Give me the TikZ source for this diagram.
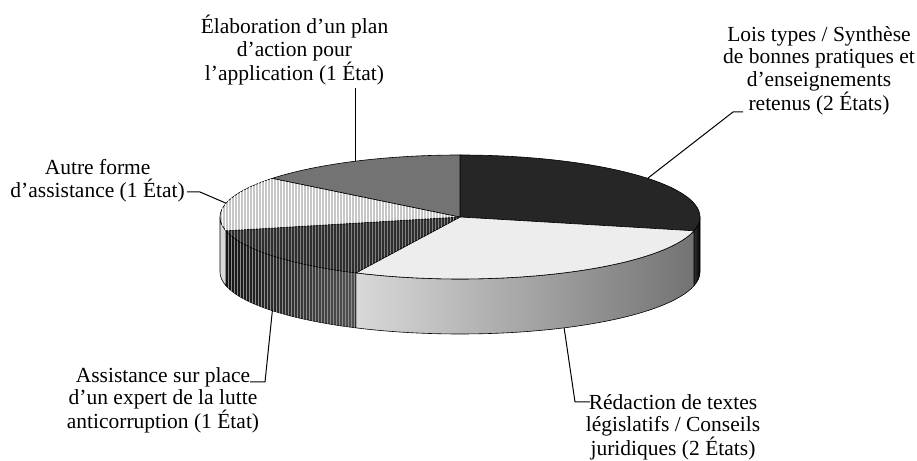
\documentclass[tikz,border=0pt]{standalone}
\usepackage{fontspec}
\setmainfont{Liberation Serif}
\usetikzlibrary{calc,patterns}

\begin{document}
\begin{tikzpicture}[x=1pt,y=1pt,
  slice/.style={draw=black,line width=0.6pt,line join=round},
  ell/.style={x radius=240,y radius=62},
  leader/.style={black,line width=1pt},
  lbl/.style={align=center,inner sep=0pt,font=\fontsize{21.5}{22.5}\selectfont}]

\useasboundingbox (0,0) rectangle (917,460);

\coordinate (ctr) at (460,243);

% front side of the pie
\draw[slice,left color=black!80,right color=black] ($(ctr)+(0:240 and 62)$) arc[ell,start angle=0,end angle=-12.857] -- ++(0,-55) arc[ell,start angle=-12.857,end angle=0] -- cycle;
\draw[slice,left color=black!15,right color=black!55] ($(ctr)+(-12.857:240 and 62)$) arc[ell,start angle=-12.857,end angle=-115.714] -- ++(0,-55) arc[ell,start angle=-115.714,end angle=-12.857] -- cycle;
\draw[slice,left color=black!92,right color=black!68,postaction={pattern=vertical lines,pattern color=black!45}] ($(ctr)+(-115.714:240 and 62)$) arc[ell,start angle=-115.714,end angle=-167.143] -- ++(0,-55) arc[ell,start angle=-167.143,end angle=-115.714] -- cycle;
\draw[slice,fill=black!15] ($(ctr)+(-167.143:240 and 62)$) arc[ell,start angle=-167.143,end angle=-180] -- ++(0,-55) arc[ell,start angle=-180,end angle=-167.143] -- cycle;

% top of the pie
\draw[slice,fill=black!85] (ctr) -- +(90:240 and 62) arc[ell,start angle=90,end angle=-12.857] -- cycle;
\draw[slice,fill=black!7] (ctr) -- +(-12.857:240 and 62) arc[ell,start angle=-12.857,end angle=-115.714] -- cycle;
\draw[slice,fill=black!82,postaction={pattern=vertical lines,pattern color=black!50}] (ctr) -- +(-115.714:240 and 62) arc[ell,start angle=-115.714,end angle=-167.143] -- cycle;
\draw[slice,fill=black!22,postaction={pattern=vertical lines,pattern color=white}] (ctr) -- +(-167.143:240 and 62) arc[ell,start angle=-167.143,end angle=-218.571] -- cycle;
\draw[slice,fill=black!55] (ctr) -- +(141.429:240 and 62) arc[ell,start angle=141.429,end angle=90] -- cycle;

% labels
\node[lbl,anchor=south] (elab) at (294.5,375) {Élaboration d'un plan\\d'action pour\\l'application (1 État)};
\node[lbl,anchor=south] (lois) at (819,345) {Lois types / Synthèse\\de bonnes pratiques et\\d'enseignements\\retenus (2 États)};
\node[lbl,anchor=south east] (autre) at (185,258) {Autre forme\\d'assistance (1 État)};
\node[lbl,anchor=north] (redac) at (673,66) {Rédaction de textes\\législatifs / Conseils\\juridiques (2 États)};
\node[lbl,anchor=north] (assist) at (163,93) {Assistance sur place\\d'un expert de la lutte\\anticorruption (1 État)};

% leader lines
\coordinate (pElab) at ($(ctr)+(115.714:240 and 62)$);
\coordinate (pLois) at ($(ctr)+(38.571:240 and 62)$);
\coordinate (pAutre) at ($(ctr)+(167.143:240 and 62)$);
\coordinate (pRedac) at ($(ctr)+(0,-55)+(-64.286:240 and 62)$);
\coordinate (pAssist) at ($(ctr)+(0,-55)+(-141.429:240 and 62)$);
\coordinate (kLois) at (743,348);
\coordinate (kAutre) at (187,268);
\coordinate (kRedac) at (590,58);
\coordinate (kAssist) at (250,78);

\draw[leader,shorten >=3pt] (pElab) -- (pElab |- elab.south);
\draw[leader] (pLois) -- ([xshift=-10pt]kLois) -- (kLois);
\draw[leader] (pAutre) -- ([xshift=13pt]kAutre) -- (kAutre);
\draw[leader] (pRedac) -- ([xshift=-15pt]kRedac) -- (kRedac);
\draw[leader] (pAssist) -- ([xshift=15pt]kAssist) -- (kAssist);

\end{tikzpicture}
\end{document}
